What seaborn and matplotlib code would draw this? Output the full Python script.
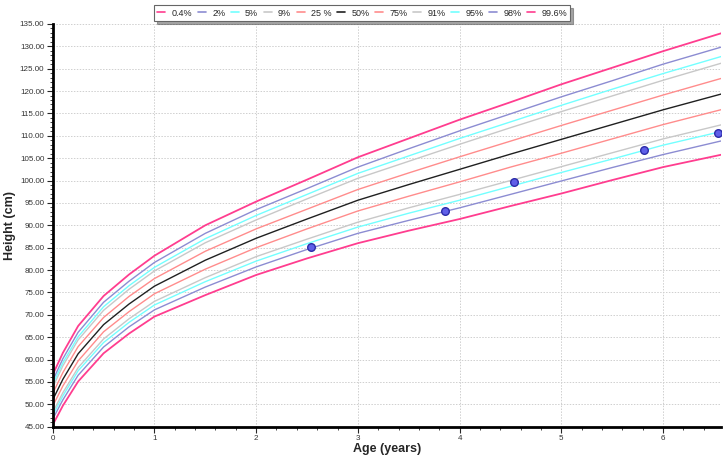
# Height-for-age centile chart with measured points

import pandas as pd
import seaborn as sns
import matplotlib.pyplot as plt
from matplotlib.lines import Line2D
from matplotlib.transforms import IdentityTransform
from matplotlib.ticker import MultipleLocator, FormatStrFormatter

ages = [0, 0.1, 0.25, 0.5, 0.75, 1, 1.5, 2, 2.5, 3, 3.5, 4, 4.5, 5, 5.5, 6, 6.6]

p0_4 = [45.4, 49.7, 55.1, 61.4, 65.8, 69.6, 74.4, 78.9, 82.6, 86.0, 88.8, 91.4, 94.3, 97.1, 100.1, 103.0, 105.9]
p2 = [46.7, 51.0, 56.5, 62.8, 67.3, 71.1, 76.2, 80.7, 84.6, 88.2, 91.1, 93.9, 96.9, 99.9, 102.9, 105.8, 109.0]
p5 = [47.5, 51.9, 57.5, 63.8, 68.3, 72.2, 77.4, 82.0, 85.9, 89.6, 92.7, 95.6, 98.7, 101.8, 104.8, 107.9, 111.1]
p9 = [48.2, 52.6, 58.2, 64.6, 69.1, 73.0, 78.3, 83.0, 86.9, 90.7, 93.9, 96.9, 100.0, 103.1, 106.2, 109.3, 112.6]
p25 = [49.6, 54.1, 59.7, 66.2, 70.7, 74.7, 80.2, 85.0, 89.2, 93.2, 96.5, 99.7, 103.0, 106.1, 109.3, 112.5, 116.0]
p50 = [51.0, 55.6, 61.3, 67.8, 72.4, 76.4, 82.2, 87.1, 91.4, 95.6, 99.1, 102.5, 105.9, 109.2, 112.5, 115.8, 119.5]
p75 = [52.4, 57.1, 62.9, 69.4, 74.1, 78.1, 84.2, 89.2, 93.6, 98.0, 101.7, 105.3, 108.8, 112.3, 115.7, 119.1, 123.0]
p91 = [53.8, 58.6, 64.4, 71.0, 75.7, 79.8, 86.1, 91.2, 95.9, 100.5, 104.3, 108.1, 111.8, 115.4, 118.9, 122.4, 126.4]
p95 = [54.5, 59.3, 65.1, 71.8, 76.5, 80.6, 87.0, 92.2, 96.9, 101.6, 105.5, 109.4, 113.1, 116.8, 120.4, 123.9, 127.9]
p98 = [55.3, 60.2, 66.1, 72.8, 77.5, 81.7, 88.2, 93.5, 98.2, 103.0, 107.1, 111.1, 114.9, 118.7, 122.3, 126.0, 130.0]
p99_6 = [56.6, 61.5, 67.5, 74.2, 79.0, 83.2, 90.0, 95.3, 100.2, 105.2, 109.4, 113.6, 117.5, 121.5, 125.2, 128.9, 133.1]

centiles = ['0.4%', '2%', '5%', '9%', '25 %', '50%', '75%', '91%', '95%', '98%', '99.6%']
curves = [p0_4, p2, p5, p9, p25, p50, p75, p91, p95, p98, p99_6]
colors = ['#ff3d8f', '#8c8cd2', '#73ffff', '#c8c8c8', '#ff8c8c', '#202020',
          '#ff8c8c', '#c8c8c8', '#73ffff', '#8c8cd2', '#ff3d8f']
widths = [1.3, 1.0, 1.0, 1.0, 1.0, 1.0, 1.0, 1.0, 1.0, 1.0, 1.3]

visit_age = [2.54, 3.86, 4.54, 5.81, 6.54]
visit_height = [85.1, 93.3, 99.6, 106.9, 110.7]

sns.set_style('white')
plt.rcParams['font.family'] = ['Liberation Sans', 'DejaVu Sans']

df = pd.DataFrame({
    'age': ages * len(centiles),
    'height': sum(curves, []),
    'centile': [c for c in centiles for _ in ages],
})

fig = plt.figure(figsize=(7.23, 4.57), dpi=100)
ax = fig.add_axes([0.0729, 0.0663, 0.9243, 0.8814])

sns.lineplot(data=df, x='age', y='height', hue='centile', hue_order=centiles,
             palette=dict(zip(centiles, colors)), ax=ax, legend=False, sort=False)
for line, lw in zip(ax.lines, widths):
    line.set_linewidth(lw)

sns.scatterplot(x=visit_age, y=visit_height, ax=ax, color='#5f5fe8', edgecolor='#2b2ba8',
                linewidth=1, s=30, zorder=5, legend=False)

ax.set_xlim(0, 6.57)
ax.set_ylim(45, 135)
ax.xaxis.set_major_locator(MultipleLocator(1))
ax.xaxis.set_minor_locator(MultipleLocator(0.2))
ax.yaxis.set_major_locator(MultipleLocator(5))
ax.yaxis.set_minor_locator(MultipleLocator(1))
ax.yaxis.set_major_formatter(FormatStrFormatter('%.2f'))

ax.grid(which='major', color='#cfcfcf', linestyle=(0, (1.5, 1.5)), linewidth=0.7)
ax.set_axisbelow(True)
for s in ['top', 'right']:
    ax.spines[s].set_visible(False)
for s in ['left', 'bottom']:
    ax.spines[s].set_linewidth(2)
    ax.spines[s].set_color('black')

ax.tick_params(which='major', direction='out', length=4, width=0.8, labelsize=5.8,
               labelcolor='#333333', left=True, bottom=True, pad=2)
ax.tick_params(which='minor', direction='out', length=2.5, width=0.6, left=True, bottom=True)

ax.set_xlabel('Age (years)', fontsize=9, fontweight='bold', labelpad=1)
ax.set_ylabel('Height (cm)', fontsize=9, fontweight='bold', labelpad=3)

handles = [Line2D([], [], color=c, lw=1.2) for c in colors]
leg = fig.legend(handles, centiles, loc='upper center', bbox_to_anchor=(0.501, 0.998),
                 ncol=11, fontsize=6.5, handlelength=0.9, handletextpad=0.7,
                 columnspacing=0.6, borderpad=0.35, frameon=True, fancybox=False,
                 shadow=True, edgecolor='#666666')
leg.get_frame().set_linewidth(0.8)

# vertical separators between legend entries
fig.canvas.draw()
box = leg.get_window_extent()
texts = leg.get_texts()
lh = leg.legend_handles
for i in range(len(texts) - 1):
    x0 = texts[i].get_window_extent().x1
    x1 = lh[i + 1].get_window_extent().x0
    xs = (x0 + x1) / 2
    fig.add_artist(Line2D([xs, xs], [box.y0, box.y1], color='#666666', lw=0.8,
                          transform=IdentityTransform()))

plt.savefig('out.png', dpi=100)
